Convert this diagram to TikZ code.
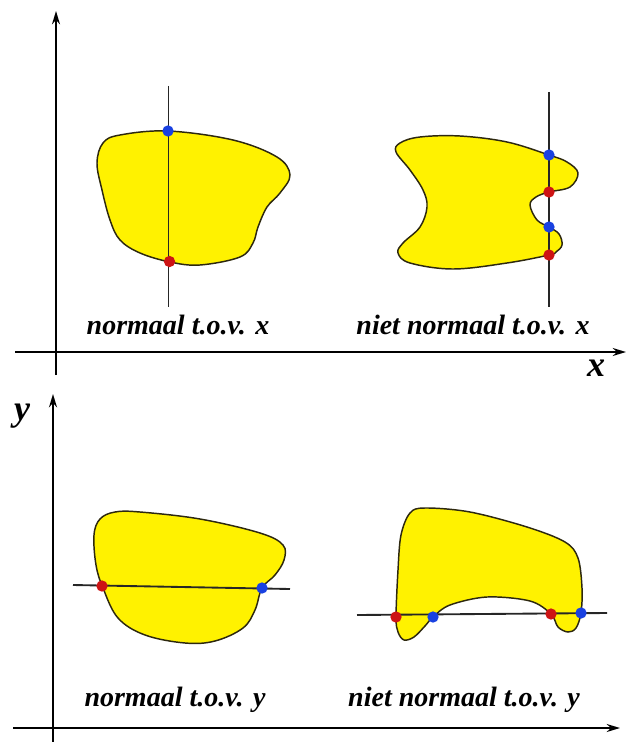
\documentclass[tikz,border=0pt]{standalone}
\usepackage{fontspec}
\setmainfont{Liberation Serif}
\usetikzlibrary{arrows.meta}
\definecolor{fillyellow}{RGB}{255,242,0}
\definecolor{edgecol}{RGB}{45,40,15}
\definecolor{dotblue}{RGB}{25,65,225}
\definecolor{dotred}{RGB}{205,20,20}
\tikzset{
  axis/.style={line width=1.3pt, -{Stealth[length=10pt,width=6pt]}},
  region/.style={fill=fillyellow, draw=edgecol, line width=1.1pt},
  cutline/.style={line width=1.4pt, draw=black!85},
  bdot/.style={circle, fill=dotblue, inner sep=0pt, minimum size=8.5pt},
  rdot/.style={circle, fill=dotred, inner sep=0pt, minimum size=8.5pt},
  lbl/.style={font=\fontsize{21}{25}\selectfont\bfseries\itshape, inner sep=0pt},
  axlbl/.style={font=\fontsize{27}{31}\selectfont\bfseries\itshape, inner sep=0pt},
}
\begin{document}
\begin{tikzpicture}[x=0.75pt,y=-0.75pt]
\path[use as bounding box] (0,0) rectangle (626,742);

% ---------- top panel axes ----------
\coordinate (tv0) at (56,375);
\coordinate (tv1) at (56,11);
\coordinate (th0) at (15,352);
\coordinate (th1) at (626,352);
\draw[axis] (tv0) -- (tv1);
\draw[axis] (th0) -- (th1);
\node[axlbl] (xlab) at (596,368) {x};

% ---------- top-left region ----------
\draw[region] plot[smooth cycle, tension=0.6] coordinates {
 (97,163) (103,143) (120,135) (168,131) (233,140) (277,157) (290,175)
 (280,193) (267,207) (258,227) (253,243) (240,257) (200,265) (170,262)
 (140,253) (120,240) (110,220) (102,190)};
\coordinate (c1a) at (168.5,86);
\coordinate (c1b) at (168.5,307);
\draw[cutline] (c1a) -- (c1b);
\node[bdot] (b1) at (168,131) {};
\node[rdot] (r1) at (169.5,261.5) {};
\node[lbl] (l1) at (178,325) {normaal t.o.v. x};

% ---------- top-right region ----------
\draw[region] plot[smooth cycle, tension=0.6] coordinates {
 (400,143) (420,137) (460,136) (507,142) (549,155) (567,162) (578,173)
 (570,187) (549,192) (536,197) (530,205) (537,220) (549,227) (559,234)
 (562,245) (556,252) (549,255) (507,263) (453,269) (410,263) (398,253)
 (403,243) (420,227) (427,207) (423,190) (410,170) (396,152)};
\coordinate (c2a) at (549,92);
\coordinate (c2b) at (549,307);
\draw[cutline] (c2a) -- (c2b);
\node[bdot] (b2) at (549,155) {};
\node[rdot] (r2) at (549,192) {};
\node[bdot] (b3) at (549,227) {};
\node[rdot] (r3) at (549,255) {};
\node[lbl] (l2) at (473,325) {niet normaal t.o.v. x};

% ---------- bottom panel axes ----------
\coordinate (bv0) at (53,742);
\coordinate (bv1) at (53,394);
\coordinate (bh0) at (13,728);
\coordinate (bh1) at (620,728);
\draw[axis] (bv0) -- (bv1);
\draw[axis] (bh0) -- (bh1);
\node[axlbl] (ylab) at (22,416) {y};

% ---------- bottom-left region ----------
\draw[region] plot[smooth cycle, tension=0.6] coordinates {
 (94,535) (100,519) (115,512) (140,512) (200,519) (260,533) (283,545)
 (284,560) (275,575) (262,588) (255,610) (243,628) (215,641) (185,643)
 (145,635) (118,618) (103,588) (96,565)};
\coordinate (c3a) at (73,585);
\coordinate (c3b) at (290,589);
\draw[cutline] (c3a) -- (c3b);
\node[rdot] (r4) at (102,586) {};
\node[bdot] (b4) at (262,588) {};
\node[lbl] (l3) at (175,700) {normaal t.o.v. y};

% ---------- bottom-right region ----------
\draw[region] plot[smooth cycle, tension=0.55] coordinates {
 (398,570) (401,535) (410,513) (425,508) (470,512) (527,527) (565,542)
 (578,558) (582,588) (581,613) (576,628) (568,632) (558,627) (551,614)
 (530,601) (487,597) (450,605) (433,617) (425,626) (414,637) (404,640)
 (398,632) (396,617)};
\coordinate (c4a) at (357,615);
\coordinate (c4b) at (607,613);
\draw[cutline] (c4a) -- (c4b);
\node[rdot] (r5) at (396,617) {};
\node[bdot] (b5) at (433,617) {};
\node[rdot] (r6) at (551,614) {};
\node[bdot] (b6) at (581,613) {};
\node[lbl] (l4) at (464,700) {niet normaal t.o.v. y};
\end{tikzpicture}
\end{document}
